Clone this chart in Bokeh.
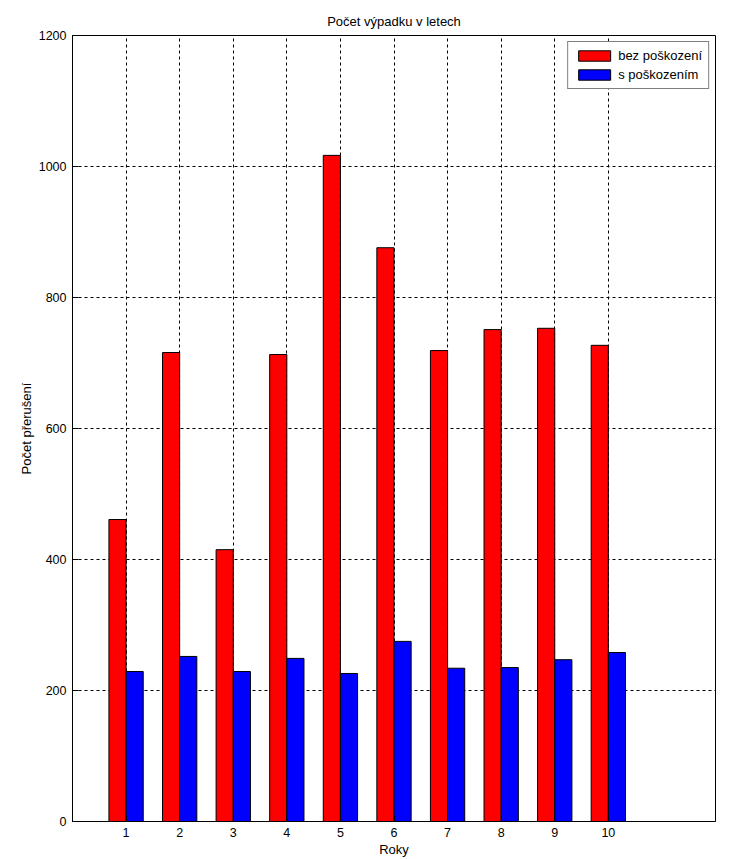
from bokeh.plotting import figure
from bokeh.models import Range1d, FixedTicker, Legend, LegendItem, ColumnDataSource
from bokeh.transform import dodge
from bokeh.embed import file_html
from bokeh.resources import INLINE

years = [1, 2, 3, 4, 5, 6, 7, 8, 9, 10]
bez_poskozeni = [461, 716, 415, 713, 1017, 876, 719, 751, 753, 727]
s_poskozenim = [229, 252, 229, 249, 226, 275, 234, 235, 247, 258]
y_ticks = [0, 200, 400, 600, 800, 1000, 1200]

FONT = "Liberation Sans"

src = ColumnDataSource(dict(x=years, a=bez_poskozeni, b=s_poskozenim))

p = figure(width=735, height=859, output_backend="svg", toolbar_location=None,
           x_range=Range1d(0, 12), y_range=Range1d(0, 1200),
           min_border_left=72, min_border_right=20, min_border_top=35, min_border_bottom=38,
           title="Počet výpadku v letech")

p.title.align = "center"
p.title.text_font = FONT
p.title.text_font_size = "13px"
p.title.text_font_style = "normal"
p.title.text_color = "black"
p.title.standoff = 13

r1 = p.vbar(x=dodge("x", -0.16, range=p.x_range), top="a", width=0.32, source=src,
            fill_color="#ff0000", line_color="black", line_width=1)
r2 = p.vbar(x=dodge("x", 0.16, range=p.x_range), top="b", width=0.32, source=src,
            fill_color="#0000ff", line_color="black", line_width=1)

for ax in (p.xaxis[0], p.yaxis[0]):
    ax.major_tick_in = 6
    ax.major_tick_out = 0
    ax.minor_tick_in = 0
    ax.minor_tick_out = 0
    ax.axis_line_color = "black"
    ax.major_tick_line_color = "black"
    ax.major_label_text_font = FONT
    ax.major_label_text_font_size = "12.5px"
    ax.major_label_text_color = "black"
    ax.axis_label_text_font = FONT
    ax.axis_label_text_font_size = "13px"
    ax.axis_label_text_font_style = "normal"
    ax.axis_label_text_color = "black"
    ax.major_label_standoff = 6

p.xaxis[0].ticker = FixedTicker(ticks=years)
p.yaxis[0].ticker = FixedTicker(ticks=y_ticks)
p.xaxis[0].axis_label = "Roky"
p.yaxis[0].axis_label = "Počet přerušení"
p.xaxis[0].axis_label_standoff = 2
p.yaxis[0].axis_label_standoff = 2

p.xgrid.ticker = FixedTicker(ticks=years)
p.ygrid.ticker = FixedTicker(ticks=y_ticks)
for g in (p.xgrid[0], p.ygrid[0]):
    g.grid_line_color = "black"
    g.grid_line_dash = "3 3"
    g.grid_line_width = 1
    g.grid_line_alpha = 1.0

p.outline_line_color = "black"
p.outline_line_width = 1
p.background_fill_color = "white"
p.border_fill_color = "white"

legend = Legend(items=[LegendItem(label="bez poškození", renderers=[r1]),
                       LegendItem(label="s poškozením", renderers=[r2])],
                location="top_right")
legend.margin = 6
legend.padding = 6
legend.spacing = 4
legend.glyph_width = 40
legend.glyph_height = 13
legend.label_height = 12
legend.label_standoff = 4
legend.label_text_font = FONT
legend.label_text_font_size = "13px"
legend.label_text_color = "black"
legend.border_line_color = "black"
legend.border_line_width = 1
legend.background_fill_alpha = 1.0
p.add_layout(legend, "center")

open("out.html", "w").write(file_html(p, INLINE))
